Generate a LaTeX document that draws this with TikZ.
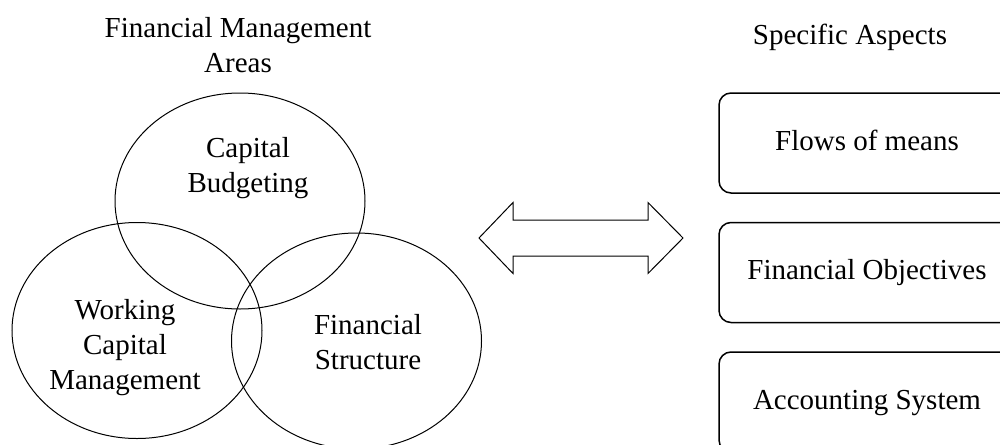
\documentclass[tikz,border=0pt]{standalone}
\usepackage{fontspec}
\setmainfont{Liberation Serif}
\usetikzlibrary{positioning,shapes.geometric}

\begin{document}
\begin{tikzpicture}[
    x=1pt, y=-1pt,
    node distance=28pt,
    every node/.style={font=\fontsize{29}{35}\selectfont},
    area/.style={draw, ellipse, line width=1pt, minimum width=250pt, minimum height=216pt, inner sep=0pt},
    areatext/.style={align=center, inner sep=0pt},
    aspect/.style={draw, rounded corners=12pt, line width=1.5pt, minimum width=296pt, minimum height=100pt, text height=20pt, text depth=6pt}
]

\useasboundingbox (0,0) rectangle (1000,444);
\clip (0,0) rectangle (1000,444);

% the three areas
\node[area] (budget) at (240,201) {};
\node[area] (working) at (137,330.5) {};
\node[area] (structure) at (356.5,341) {};

\node[areatext] (budgettext) at (248,168.5) {Capital\\Budgeting};
\node[areatext] (workingtext) at (125,347.5) {Working\\Capital\\Management};
\node[areatext] (structuretext) at (368,342.5) {Financial\\Structure};

\node[areatext] (areastitle) at (238,45.5) {Financial Management\\Areas};
\node[areatext] (aspectstitle) at (850,37) {Specific Aspects};

% aspects
\node[aspect] (means) at (867,143) {Flows of means};
\node[aspect, below=of means] (objectives) {Financial Objectives};
\node[aspect, below=of objectives] (accounting) {Accounting System};

% double arrow
\draw[line width=1pt] (479,238) -- (513,202.5) -- (513,220) -- (648,220) -- (648,202.5)
    -- (683,238) -- (648,273.5) -- (648,256) -- (513,256) -- (513,273.5) -- cycle;

\end{tikzpicture}
\end{document}
